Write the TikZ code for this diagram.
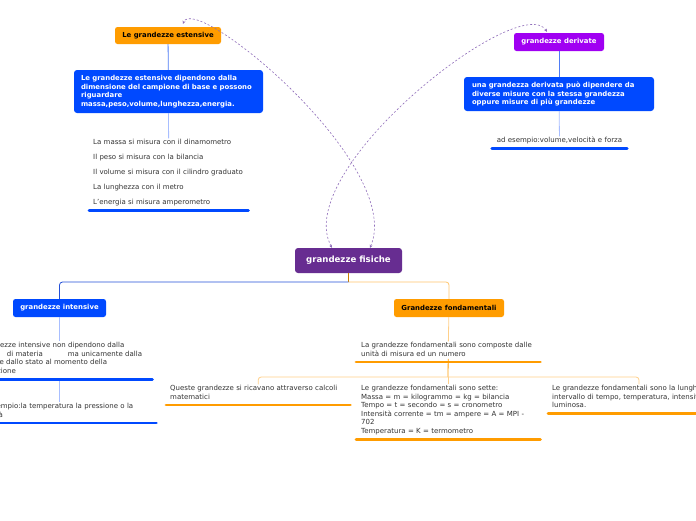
\documentclass[tikz,border=0pt]{standalone}
\usepackage{fontspec}
\setmainfont{DejaVu Sans}
\usetikzlibrary{arrows.meta}
\definecolor{cOr}{HTML}{FF9C00}
\definecolor{cBl}{HTML}{0049FF}
\definecolor{cDv}{HTML}{A000F2}
\definecolor{cFs}{HTML}{672D91}
\definecolor{cTx}{HTML}{333333}
\definecolor{cRel}{HTML}{8F6DBA}
\definecolor{cLB}{HTML}{A8BEFF}
\definecolor{cMB}{HTML}{4F7CF5}
\definecolor{cLO}{HTML}{FFD08A}
\definecolor{cBr}{HTML}{2450D8}
\tikzset{
  box/.style={rounded corners=2.5pt, inner sep=0pt, align=center},
  lbl/.style={font=\fontsize{6.9}{8}\selectfont\bfseries},
  body/.style={font=\fontsize{6.9}{8.5}\selectfont\bfseries, text=white, fill=cBl,
    rounded corners=3pt, align=left, inner ysep=0pt},
  txt/.style={font=\fontsize{7}{8.6}\selectfont, text=cTx, align=left,
    anchor=north west, inner ysep=0pt, inner xsep=4pt},
  ulb/.style={draw=cBl, line width=2.8pt, line cap=round},
  ulo/.style={draw=cOr, line width=2.8pt, line cap=round},
  rel/.style={draw=cRel, line width=0.6pt, dash pattern=on 2pt off 2pt,
    {Stealth[length=3pt,width=3pt]}-{Stealth[length=3pt,width=3pt]}},
}
\begin{document}
\begin{tikzpicture}[x=1pt,y=-1pt]
\fill[white] (0,0) rectangle (696,520);
\useasboundingbox (0,0) rectangle (696,520);

% top-left branch
\node[box, lbl, fill=cOr, minimum width=106pt, minimum height=17pt] (E) at (168,35.5) {Le grandezze estensive};
\node[body, minimum width=189pt, minimum height=43pt, text width=175pt, inner xsep=7pt] (E2) at (168.5,91.5)
  {Le grandezze estensive dipendono dalla\\ dimensione del campione di base e possono\\ riguardare\\ massa,peso,volume,lunghezza,energia.};
\node[txt, text width=151pt] (L) at (89,138.35)
  {\strut La massa si misura con il dinamometro\\[6.4pt]
   Il peso si misura con la bilancia\\[6.4pt]
   Il volume si misura con il cilindro graduato\\[6.4pt]
   La lunghezza con il metro\\[6.4pt]
   L'energia si misura amperometro\strut};

% top-right branch
\node[box, lbl, fill=cDv, text=white, minimum width=90pt, minimum height=18pt] (D) at (559,42) {grandezze derivate};
\node[body, minimum width=190pt, minimum height=34pt, text width=174pt, inner xsep=8pt] (D2) at (559,94)
  {una grandezza derivata può dipendere da\\ diverse misure con la stessa grandezza\\ oppure misure di più grandezze};
\node[txt, anchor=north, align=center, text width=127pt] (D3) at (559.5,136.35)
  {\strut ad esempio:volume,velocità e forza\strut};

% central topic
\node[box, fill=cFs, text=white, font=\fontsize{8.6}{10}\selectfont\bfseries,
  rounded corners=3pt, minimum width=107pt, minimum height=25pt] (F) at (348.5,260.5) {grandezze fisiche};

% lower left
\node[box, lbl, fill=cBl, text=white, minimum width=93pt, minimum height=18pt] (I) at (59.5,308) {grandezze intensive};
\node[txt, text width=179pt] (I2) at (-35,341.35)
  {\strut Le grandezze intensive non dipendono dalla\\
   quantità\hspace{6pt} di materia\hspace{25pt}ma unicamente dalla\\
   \hspace*{5pt}natura e dallo stato al momento della\\
   \hspace*{4pt}misurazione\strut};
\node[txt, text width=175pt] (I3) at (-27,402.35)
  {\strut Ad esempio:la temperatura la pressione o la\\ densità\strut};

% lower right
\node[box, lbl, fill=cOr, minimum width=110pt, minimum height=18pt] (G) at (449,308) {Grandezze fondamentali};
\node[txt, text width=174pt, inner xsep=5pt] (G2) at (356,341.35)
  {\strut La grandezze fondamentali sono composte dalle\\ unità di misura ed un numero\strut};
\node[txt, text width=176pt] (Q) at (166,384.35)
  {\strut Queste grandezze si ricavano attraverso calcoli\\ matematici\strut};
\node[txt, text width=174pt, inner xsep=5pt] (S) at (356,384.35)
  {\strut Le grandezze fondamentali sono sette:\\
   Massa = m = kilogrammo = kg = bilancia\\
   Tempo = t = secondo = s = cronometro\\
   Intensità corrente = tm = ampere = A = MPI -\\
   702\\
   Temperatura = K = termometro\strut};
\node[txt, text width=174pt] (R) at (548,384.35)
  {\strut\mbox{Le grandezze fondamentali sono la lunghezza, la}\\
   \mbox{intervallo di tempo, temperatura, intensità}\\
   luminosa.\strut};

% connectors
\coordinate (fb) at (348.5,282);
\coordinate (b2) at (448,377);
\draw[cMB, line width=0.8pt] (E) -- (E2);
\draw[cLB, line width=0.8pt] (E2) -- (L);
\draw[cMB, line width=0.8pt] (D) -- (D2);
\draw[cLB, line width=0.8pt] (D2) -- (D3);
\draw[cOr!80!black, line width=0.8pt] (F) -- (fb);
\draw[cBr, line width=0.8pt, rounded corners=3pt] (fb) -| (I);
\draw[cLO!80!cOr, line width=0.8pt, rounded corners=3pt] (fb) -| (G);
\draw[cLB, line width=0.8pt] (I) -- (I2.north -| I);
\draw[cLB, line width=0.8pt] ([yshift=-4pt]I2.south -| I) -- (I3.north -| I);
\draw[cLO, line width=0.8pt] (G) -- (G2);
\draw[cOr, line width=0.8pt] (G2.south) -- (b2);
\draw[cLO, line width=0.8pt, rounded corners=3pt] (b2) -| (Q.north);
\draw[cLO, line width=0.8pt, rounded corners=3pt] (b2) -| (639,384.35);
\draw[cLO, line width=0.8pt] (b2) -- (S.north -| b2);

% underlines
\draw[ulb] ([yshift=-3pt]L.south west) -- ([yshift=-3pt]L.south east);
\draw[ulb] ([yshift=-3pt]D3.south west) -- ([yshift=-3pt]D3.south east);
\draw[ulb] ([yshift=-3pt]I2.south west) -- ([yshift=-3pt]I2.south east);
\draw[ulb] ([yshift=-3pt]I3.south west) -- ([yshift=-3pt]I3.south east);
\draw[ulo] ([yshift=-3pt]G2.south west) -- ([yshift=-3pt]G2.south east);
\draw[ulo] ([yshift=-3pt]Q.south west) -- ([yshift=-3pt]Q.south east);
\draw[ulo] ([yshift=-3pt]S.south west) -- ([yshift=-3pt]S.south east);
\draw[ulo] ([yshift=-3pt]R.south west) -- ([yshift=-3pt]R.south east);

% relationships
\draw[rel] ([xshift=21.5pt]F.north) .. controls (405,165) and (195,-8) .. ([xshift=15pt,yshift=3pt]E.north);
\draw[rel] ([xshift=-16.5pt]F.north) .. controls (290,170) and (520,-10) .. ([xshift=-12pt,yshift=1pt]D.north);
\end{tikzpicture}
\end{document}
